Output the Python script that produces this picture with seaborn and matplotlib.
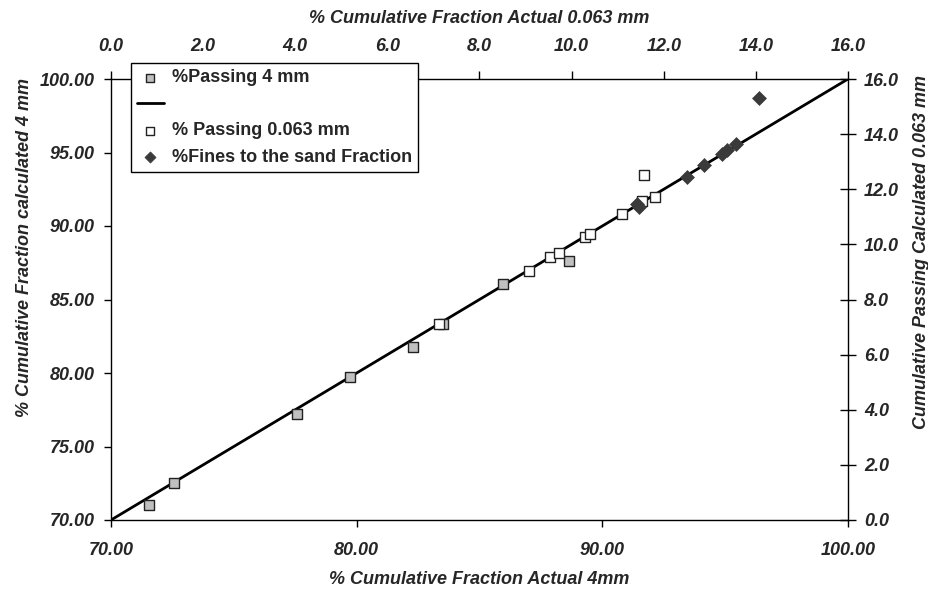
import matplotlib
matplotlib.use("Agg")
import matplotlib.pyplot as plt
from matplotlib.ticker import FormatStrFormatter, MultipleLocator
import seaborn as sns

# % Passing 4 mm  (bottom / left axes)
pass4_actual = [71.55, 72.56, 77.56, 79.73, 82.30, 83.50, 85.94, 88.63]
pass4_calc = [71.02, 72.54, 77.19, 79.71, 81.77, 83.31, 86.03, 87.64]

# % Passing 0.063 mm  (top / right axes)
pass063_actual = [7.13, 9.07, 9.53, 9.73, 10.28, 10.40, 11.09, 11.53, 11.58, 11.81]
pass063_calc = [7.10, 9.03, 9.53, 9.69, 10.28, 10.39, 11.09, 11.59, 12.53, 11.73]

# % Fines to the sand fraction  (top / right axes)
fines_actual = [11.41, 11.47, 12.50, 12.87, 13.27, 13.38, 13.57, 14.07]
fines_calc = [11.47, 11.37, 12.43, 12.88, 13.28, 13.43, 13.64, 15.30]

# 1:1 line
line_x = [70, 100]
line_y = [70, 100]

sns.set_theme(style="ticks")
plt.rcParams['font.family'] = ['Liberation Sans', 'DejaVu Sans']
plt.rcParams['font.weight'] = 'bold'
plt.rcParams['font.style'] = 'italic'
plt.rcParams['font.size'] = 13
plt.rcParams['axes.labelweight'] = 'bold'
plt.rcParams['axes.labelsize'] = 13
plt.rcParams['axes.edgecolor'] = 'black'
plt.rcParams['axes.linewidth'] = 1.0

fig = plt.figure(figsize=(9.29, 5.92), dpi=100)
rect = [111 / 929, 72 / 592, 737 / 929, 441 / 592]
ax = fig.add_axes(rect)
ax2 = fig.add_axes(rect, frameon=False, label="secondary")

sns.scatterplot(x=pass4_actual, y=pass4_calc, ax=ax, marker='s', s=60,
                color='#c0c0c0', edgecolor='#222222', linewidth=1,
                label='%Passing 4 mm', legend=False, zorder=3)
sns.lineplot(x=line_x, y=line_y, ax=ax, color='black', lw=2, label=' ',
             legend=False)

sns.scatterplot(x=pass063_actual, y=pass063_calc, ax=ax2, marker='s', s=60,
                color='white', edgecolor='#222222', linewidth=1,
                label='% Passing 0.063 mm', legend=False, zorder=3)
sns.scatterplot(x=fines_actual, y=fines_calc, ax=ax2, marker='D', s=50,
                color='#3a3a3a', edgecolor='#3a3a3a', linewidth=0.5,
                label='%Fines to the sand Fraction', legend=False, zorder=4)

ax.set_xlim(70, 100)
ax.set_ylim(70, 100)
ax.xaxis.set_major_locator(MultipleLocator(10))
ax.yaxis.set_major_locator(MultipleLocator(5))
ax.xaxis.set_major_formatter(FormatStrFormatter('%.2f'))
ax.yaxis.set_major_formatter(FormatStrFormatter('%.2f'))
ax.tick_params(axis='x', direction='out', length=5, width=1, color='black',
               labelsize=13, pad=11)
ax.tick_params(axis='y', direction='out', length=5, width=1, color='black',
               labelsize=13, pad=7)

ax2.set_xlim(0, 16)
ax2.set_ylim(0, 16)
ax2.xaxis.tick_top()
ax2.xaxis.set_label_position('top')
ax2.yaxis.tick_right()
ax2.yaxis.set_label_position('right')
ax2.xaxis.set_major_locator(MultipleLocator(2))
ax2.yaxis.set_major_locator(MultipleLocator(2))
ax2.xaxis.set_major_formatter(FormatStrFormatter('%.1f'))
ax2.yaxis.set_major_formatter(FormatStrFormatter('%.1f'))
ax2.tick_params(axis='x', direction='out', length=6, width=1, color='black',
                labelsize=13, pad=11)
ax2.tick_params(axis='y', direction='inout', length=11, width=1, color='black',
                labelsize=13, pad=6)

ax.set_xlabel('% Cumulative Fraction Actual 4mm', labelpad=8.5)
ax2.set_xlabel('% Cumulative Fraction Actual 0.063 mm', labelpad=11)
ax.set_ylabel('% Cumulative Fraction calculated 4 mm')
ax.yaxis.set_label_coords(-0.106, 0.619)
ax2.set_ylabel('Cumulative Passing Calculated 0.063 mm')
ax2.yaxis.set_label_coords(1.088, 0.608)

h1, l1 = ax.get_legend_handles_labels()
h2, l2 = ax2.get_legend_handles_labels()
leg = ax2.legend(h1 + h2, l1 + l2, loc='upper left',
                 bbox_to_anchor=(131 / 929, 1 - 63 / 592),
                 bbox_transform=fig.transFigure, borderaxespad=0,
                 frameon=True, fancybox=False, framealpha=1,
                 edgecolor='black', markerscale=0.8,
                 prop={'family': 'Liberation Sans', 'weight': 'bold',
                       'style': 'normal', 'size': 13},
                 labelspacing=0.53, handlelength=1.45, handletextpad=0.45,
                 borderpad=0.35)
leg.get_frame().set_linewidth(1)

fig.savefig('out.png', dpi=100)
